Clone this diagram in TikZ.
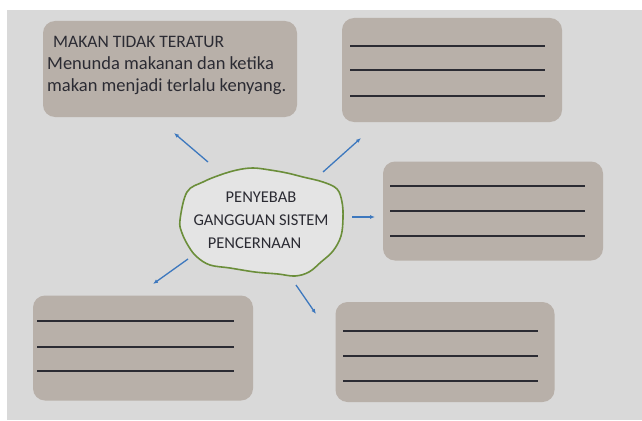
\documentclass[tikz,border=0pt]{standalone}
\usepackage{fontspec}
\setmainfont{Carlito}
\usetikzlibrary{arrows.meta,positioning}
\definecolor{bggray}{HTML}{D9D9D9}
\definecolor{boxfill}{HTML}{B8B0A9}
\definecolor{blobgreen}{HTML}{6B8E3A}
\definecolor{arwblue}{HTML}{3D78BE}
\definecolor{txtdark}{HTML}{2B2B33}

\begin{document}
\begin{tikzpicture}[x=1pt,y=-1pt,>={Latex[length=5pt,width=4pt]},
  ansbox/.style={fill=boxfill,rounded corners=12pt,inner sep=0pt},
  blank/.style={draw=txtdark,line width=1.6pt},
  arw/.style={->,draw=arwblue,line width=1.3pt},
  lbl/.style={text=txtdark,font=\fontsize{18.5}{22}\selectfont,inner sep=0pt,anchor=west}]
  % background
  \useasboundingbox (0,0) rectangle (642,420);
  \fill[white] (0,0) rectangle (642,420);
  \fill[bggray] (7,10) rectangle (642,420);
  % answer boxes
  \node[ansbox,minimum width=254pt,minimum height=96pt] (tl) at (170,69) {};
  \node[ansbox,minimum width=220pt,minimum height=104pt] (tr) at (452,70) {};
  \node[ansbox,minimum width=220pt,minimum height=99pt] (rt) at (493,211) {};
  \node[ansbox,minimum width=220pt,minimum height=105pt] (bl) at (143,348) {};
  \node[ansbox,minimum width=219pt,minimum height=100pt] (br) at (445,352) {};
  % filled box text
  \node[lbl] (head) at (53,42) {\fontsize{17.5}{20}\selectfont MAKAN TIDAK TERATUR};
  \node[lbl] (line1) at (47,63) {Menunda makanan dan ketika};
  \node[lbl] (line2) at (47,87) {makan menjadi terlalu kenyang.};
  % blank lines
  \foreach \y in {46,70,96} \draw[blank] (350,\y) -- (545,\y);
  \foreach \y in {186,211,236} \draw[blank] (390,\y) -- (585,\y);
  \foreach \y in {321,347,371} \draw[blank] (37,\y) -- (234,\y);
  \foreach \y in {331,356,381} \draw[blank] (343,\y) -- (538,\y);
  % central blob
  \draw[blobgreen,line width=1.6pt,fill=bggray!70!white] plot[smooth cycle,tension=0.6] coordinates {
    (180,220) (187,192) (203,182) (220,175) (237,170) (253,168) (270,170)
    (287,173) (303,177) (323,182) (337,189) (342,202) (343,218) (341,236)
    (333,251) (321,262) (309,272) (295,276) (278,274) (255,272) (230,268)
    (210,265) (197,257) (189,247) (182,233)};
  \node[text=txtdark,font=\fontsize{16.5}{23}\selectfont,align=center] (center) at (261,220)
    {PENYEBAB\\GANGGUAN SISTEM\\PENCERNAAN\hspace*{13pt}};
  % arrows
  \coordinate (a1s) at (208,162); \coordinate (a1e) at (174,133);
  \coordinate (a2s) at (323,172); \coordinate (a2e) at (361,138);
  \coordinate (a3s) at (352,217); \coordinate (a3e) at (375,217);
  \coordinate (a4s) at (188,259); \coordinate (a4e) at (153,284);
  \coordinate (a5s) at (296,285); \coordinate (a5e) at (316,314);
  \foreach \i in {1,...,5} \draw[arw] (a\i s) -- (a\i e);
\end{tikzpicture}
\end{document}
